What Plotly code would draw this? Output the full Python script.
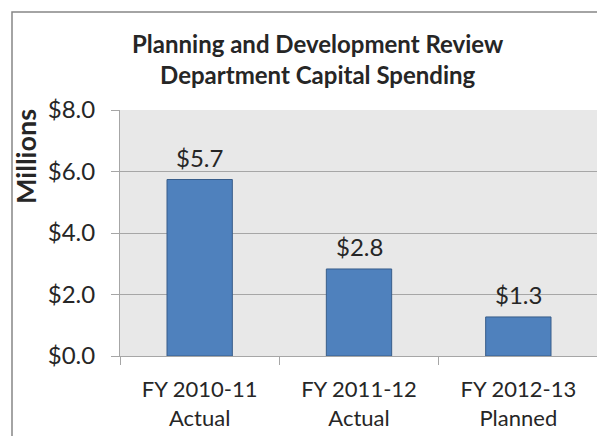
import plotly.graph_objects as go

categories = ["FY 2010-11<br>Actual", "FY 2011-12<br>Actual", "FY 2012-13<br>Planned"]
values = [5.74, 2.83, 1.27]
tick_vals = [0, 2, 4, 6, 8]
tick_text = ["$0.0", "$2.0", "$4.0", "$6.0", "$8.0"]

FONT = "Lato, 'Open Sans', sans-serif"
TXT = "#262626"

# page body has an 8px margin; compensate so the chart lands where the reference has it
OFF = 8
W, H = 605, 436
L, R, T, B = 120 - OFF, W - (598 - OFF), 110 - OFF, H - (356 - OFF)
pw, ph = W - L - R, H - T - B

def px(x):
    return (x - OFF - L) / pw

def py(y):
    return (H - B - (y - OFF)) / ph

fig = go.Figure(go.Bar(
    x=categories, y=values,
    marker=dict(color="#4f81bd", line=dict(color="#385d8a", width=1)),
    width=0.41,
))

for c, v in zip(categories, values):
    fig.add_annotation(
        x=c, y=v, text=f"${v:.1f}", showarrow=False,
        yanchor="middle", yshift=22,
        font=dict(family=FONT, size=24, color=TXT),
    )

fig.update_layout(
    width=W, height=H,
    margin=dict(l=L, r=R, t=T, b=B, autoexpand=False),
    paper_bgcolor="white", plot_bgcolor="#e8e8e8",
    showlegend=False,
    font=dict(family=FONT, color=TXT),
)
fig.update_yaxes(
    range=[0, 8], tickvals=tick_vals, ticktext=tick_text,
    tickfont=dict(family=FONT, size=24, color=TXT),
    showgrid=True, gridcolor="#a6a6a6", gridwidth=1,
    showline=True, linecolor="#a6a6a6", linewidth=1,
    ticks="outside", ticklen=8, tickcolor="#a6a6a6",
    zeroline=False, ticklabelstandoff=11, automargin=False,
)
fig.update_xaxes(
    tickfont=dict(family=FONT, size=22, color=TXT),
    showline=True, linecolor="#a6a6a6", linewidth=1,
    ticks="outside", ticklen=8, tickcolor="#a6a6a6",
    tickson="boundaries", automargin=False, ticklabelstandoff=14,
)
fig.add_annotation(
    text="<b>Planning and Development Review<br>Department Capital Spending</b>",
    x=px(318), y=py(59), xref="paper", yref="paper",
    showarrow=False, font=dict(family=FONT, size=24, color=TXT),
    xanchor="center", yanchor="middle",
)
fig.add_annotation(
    text="<b>Millions</b>", textangle=-90,
    x=px(25), y=py(157), xref="paper", yref="paper",
    showarrow=False, font=dict(family=FONT, size=27, color=TXT),
    xanchor="center", yanchor="middle",
)
fig.add_shape(
    type="rect", xref="paper", yref="paper",
    x0=px(12), x1=px(640), y0=py(470), y1=py(12),
    line=dict(color="#868686", width=1.5), fillcolor="rgba(0,0,0,0)",
    layer="below",
)
fig.write_html("out.html")
